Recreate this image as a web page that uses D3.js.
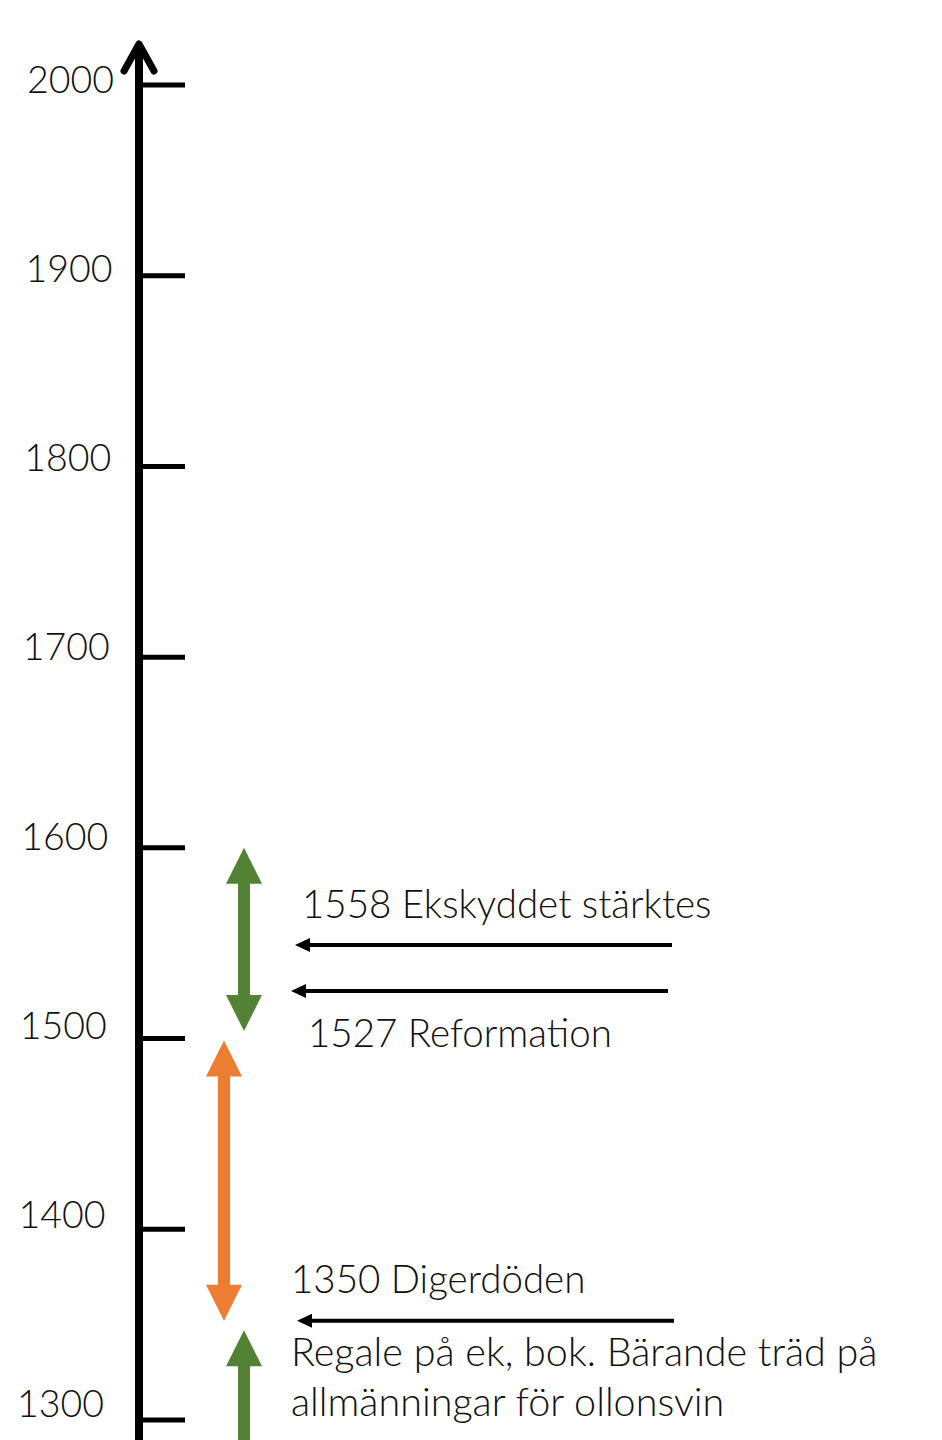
<!DOCTYPE html>
<meta charset="utf-8">
<script src="https://cdn.jsdelivr.net/npm/d3@7"></script>
<head>
	<title>Tidslinje - ek och bok</title>
	<style>
		body { margin: 0; background: #fff; }
		text { font-family: Lato, "Open Sans", sans-serif; font-weight: 300; fill: #111; }
	</style>
</head>
<body>
	<div id="chart"></div>
	<script>
		// tick years on the time axis
		var tickYears = [1300, 1400, 1500, 1600, 1700, 1800, 1900, 2000];

		// events: label text and where the black arrow sits (year)
		var eventLabels = ["1558 Ekskyddet stärktes", "1527 Reformation", "1350 Digerdöden"];
		var eventArrowYears = [1549, 1525, 1352];
		var noteLines = ["Regale på ek, bok. Bärande träd på", "allmänningar för ollonsvin"];

		// periods: coloured arrows (start year, end year, colour)
		var periodFrom = [1600, 1499, 1347];
		var periodTo = [1504, 1352, 1240];
		var periodColors = ["#548235", "#ED7D31", "#548235"];
		var periodHeads = [["start", "end"], ["start", "end"], ["start"]];

		var width = 942, height = 1440;

		var svg = d3.select("#chart")
			.append("svg")
			.attr("width", width)
			.attr("height", height);

		var y = d3.scaleLinear()
			.domain([1300, 2000])
			.range([1420, 85]);

		var axisX = 139;

		// main vertical line with open arrow head at the top
		svg.append("line")
			.attr("x1", axisX).attr("x2", axisX)
			.attr("y1", 46).attr("y2", height + 10)
			.style("stroke", "#000")
			.style("stroke-width", 8);

		svg.append("path")
			.attr("d", d3.line()([[124, 71], [139, 44], [154, 71]]))
			.style("fill", "none")
			.style("stroke", "#000")
			.style("stroke-width", 7)
			.style("stroke-linecap", "round")
			.style("stroke-linejoin", "round");

		// ticks
		svg.selectAll(".tick")
			.data(tickYears)
			.enter()
			.append("line")
			.attr("class", "tick")
			.attr("x1", axisX)
			.attr("x2", 185)
			.attr("y1", d => y(d))
			.attr("y2", d => y(d))
			.style("stroke", "#000")
			.style("stroke-width", 5);

		// tick labels drift a little (as in the original drawing)
		svg.selectAll(".tlabel")
			.data(tickYears)
			.enter()
			.append("text")
			.attr("class", "tlabel")
			.attr("text-anchor", "end")
			.attr("x", d => 104 + (d - 1300) / 70)
			.attr("y", d => y(d) - 3 + (d - 1300) * 11 / 700)
			.style("font-size", "37.5px")
			.text(d => d);

		// coloured period arrows
		var headLen = 36, headW = 36, shaftW = 12;
		var periodX = [244, 224, 244];

		periodFrom.forEach(function(from, i) {
			var x = periodX[i], y1 = y(from), y2 = y(periodTo[i]);
			var g = svg.append("g");
			var hasStart = periodHeads[i].includes("start"),
				hasEnd = periodHeads[i].includes("end");
			g.append("rect")
				.attr("x", x - shaftW / 2)
				.attr("y", hasStart ? y1 + headLen - 1 : y1)
				.attr("width", shaftW)
				.attr("height", (y2 - y1) - (hasStart ? headLen - 1 : 0) - (hasEnd ? headLen - 1 : 0))
				.style("fill", periodColors[i]);
			if (hasStart) {
				g.append("path")
					.attr("d", d3.line()([[x, y1], [x + headW / 2, y1 + headLen], [x - headW / 2, y1 + headLen]]) + "Z")
					.style("fill", periodColors[i]);
			}
			if (hasEnd) {
				g.append("path")
					.attr("d", d3.line()([[x, y2], [x + headW / 2, y2 - headLen], [x - headW / 2, y2 - headLen]]) + "Z")
					.style("fill", periodColors[i]);
			}
		});

		// black event arrows pointing at the time axis
		var arrowX1 = [295, 291, 297], arrowX2 = [672, 668, 674];
		eventArrowYears.forEach(function(yr, i) {
			var ay = y(yr);
			svg.append("line")
				.attr("x1", arrowX1[i] + 12).attr("x2", arrowX2[i])
				.attr("y1", ay).attr("y2", ay)
				.style("stroke", "#000")
				.style("stroke-width", 4);
			svg.append("path")
				.attr("d", d3.line()([[arrowX1[i], ay], [arrowX1[i] + 15, ay - 7], [arrowX1[i] + 15, ay + 7]]) + "Z")
				.style("fill", "#000");
		});

		// event texts
		var labelX = [302, 308, 291], labelY = [918, 1047, 1293];
		svg.selectAll(".elabel")
			.data(eventLabels)
			.enter()
			.append("text")
			.attr("class", "elabel")
			.attr("x", (d, i) => labelX[i])
			.attr("y", (d, i) => labelY[i])
			.style("font-size", "38.5px")
			.text(d => d);

		svg.selectAll(".note")
			.data(noteLines)
			.enter()
			.append("text")
			.attr("class", "note")
			.attr("x", 291)
			.attr("y", (d, i) => 1366 + i * 50)
			.style("font-size", "39.5px")
			.text(d => d);
	</script>
</body>
